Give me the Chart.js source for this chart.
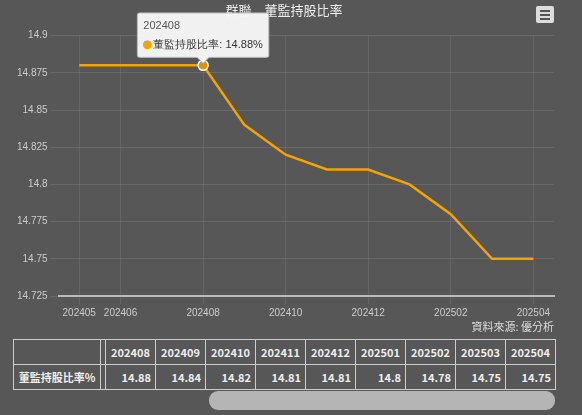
<!DOCTYPE html>
<html><head><meta charset="utf-8">
<script src="https://cdn.jsdelivr.net/npm/chart.js@4"></script>
<style>
body{margin:0;background:#575757;font-family:"Noto Sans CJK TC","Noto Sans",sans-serif;color:#eee;width:582px;height:415px;overflow:hidden}
#wrap{position:absolute;left:0;top:0;width:582px;height:322px}
#src{position:absolute;right:28px;top:318px;font-size:11px;color:#ddd}
#menu{position:absolute;left:536px;top:6px;width:18px;height:17px;background:#ddd;border-radius:2px}
#menu i{position:absolute;left:4px;width:10px;height:2px;background:#555}
table{position:absolute;left:13px;top:339px;width:543px;border-collapse:collapse;font-size:11px;color:#eee;white-space:nowrap}
td{border:1px solid #ccc;height:24px;text-align:right;padding:0 4px;font-weight:bold}
td.h{text-align:center}
#bar{position:absolute;left:209px;top:391px;width:346px;height:19px;background:#b5b5b5;border-radius:9px}
</style></head><body>
<div id="wrap"><canvas id="c"></canvas></div>
<div id="menu"><i style="top:4px"></i><i style="top:8px"></i><i style="top:12px"></i></div>
<div id="src">資料來源: 優分析</div>
<table id="t"></table>
<div id="bar"></div>
<script>
const months = ['202405','202406','202407','202408','202409','202410','202411','202412','202501','202502','202503','202504'];
const ratio = [14.88,14.88,14.88,14.88,14.84,14.82,14.81,14.81,14.80,14.78,14.75,14.75];
const shownTicks = ['202405','202406','202408','202410','202412','202502','202504'];
const tableMonths = months.slice(3);
const tableValues = ['14.88','14.84','14.82','14.81','14.81','14.8','14.78','14.75','14.75'];

const t = document.getElementById('t');
t.innerHTML = '<tr><td style="width:78px"></td><td style="padding:0;width:4px"></td>' + tableMonths.map(m=>'<td class="h">'+m+'</td>').join('') + '</tr>'
  + '<tr><td class="h">董監持股比率%</td><td style="padding:0"></td>' + tableValues.map(v=>'<td>'+v+'</td>').join('') + '</tr>';

const chart = new Chart(document.getElementById('c'), {
  type: 'line',
  data: { labels: months, datasets: [{ label: '董監持股比率', data: ratio, borderColor: '#f5a300', backgroundColor: '#f5a300', borderWidth: 2.5, tension: 0, pointRadius: 0, pointHoverRadius: 5, pointHoverBorderColor: '#fff', pointHoverBorderWidth: 1.5 }] },
  options: {
    responsive: true, maintainAspectRatio: false, animation: false,
    layout: { padding: { top: 2, right: 28, left: 14, bottom: 0 } },
    plugins: {
      legend: { display: false },
      title: { display: true, text: '群聯　董監持股比率', color: '#eee', font: { size: 13, weight: 'normal', family: '"Noto Sans CJK TC"' }, padding: { top: 0, bottom: 18 } },
      tooltip: {
        backgroundColor: 'rgba(250,250,250,0.95)', titleColor: '#555', bodyColor: '#333', borderColor: '#bbb', borderWidth: 1,
        titleFont: { size: 11, weight: 'normal' }, bodyFont: { size: 11 }, cornerRadius: 2, caretSize: 6, yAlign: 'bottom', usePointStyle: true, boxWidth: 8, boxHeight: 8,
        callbacks: { label: c => c.dataset.label + ': ' + c.parsed.y.toFixed(2) + '%', labelColor: () => ({ borderColor: '#f5a300', backgroundColor: '#f5a300' }) }
      }
    },
    scales: {
      x: { offset: true, grid: { color: 'rgba(255,255,255,0.08)' }, border: { color: '#bbb', width: 2 },
        afterBuildTicks: s => { s.ticks = s.ticks.filter(k => shownTicks.includes(months[k.value])); },
        ticks: { color: '#ccc', font: { size: 10 }, maxRotation: 0, autoSkip: false } },
      y: { min: 14.725, max: 14.9, grid: { color: 'rgba(255,255,255,0.1)' }, border: { display: false },
        ticks: { stepSize: 0.025, color: '#ccc', font: { size: 10 }, callback: v => +v.toFixed(3) } }
    }
  }
});
const pt = chart.getDatasetMeta(0).data[3];
chart.tooltip.setActiveElements([{ datasetIndex: 0, index: 3 }], { x: pt.x, y: pt.y });
chart.setActiveElements([{ datasetIndex: 0, index: 3 }]);
chart.update();
</script>
</body></html>
